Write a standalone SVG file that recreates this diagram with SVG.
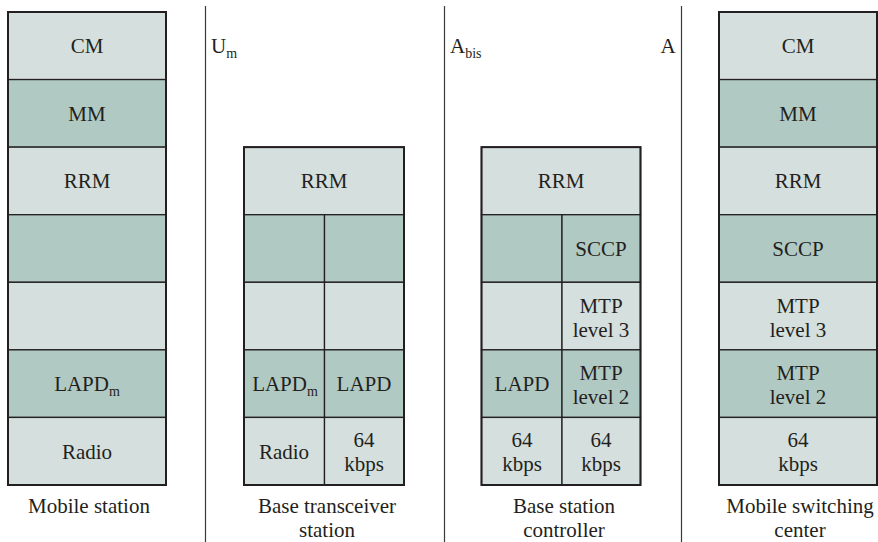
<svg xmlns="http://www.w3.org/2000/svg" width="878" height="542" viewBox="0 0 878 542" font-family="Liberation Serif, serif">
<style>
text{font-family:Liberation Serif,serif;font-size:21px;fill:#231f20;text-anchor:middle}
.l{fill:#d5dfdd;stroke:#231f20;stroke-width:1.3}
.d{fill:#b1c9c3;stroke:#231f20;stroke-width:1.3}
.o{fill:none;stroke:#231f20;stroke-width:2}
.sep{stroke:#3a3a3a;stroke-width:1.2;fill:none}
.s{font-size:14px}
.lt{text-anchor:start}
</style>
<rect width="878" height="542" fill="#ffffff"/>
<g id="interfaces">
<line class="sep" x1="205.5" y1="6" x2="205.5" y2="542"/>
<line class="sep" x1="444.5" y1="6" x2="444.5" y2="542"/>
<line class="sep" x1="681.5" y1="6" x2="681.5" y2="542"/>
<text class="lt" x="211" y="53">U<tspan class="s" dy="5">m</tspan></text>
<text class="lt" x="450" y="53">A<tspan class="s" dy="5">bis</tspan></text>
<text x="668" y="53">A</text>
</g>
<g id="mobile-station">
<rect class="l" x="8" y="12" width="158" height="67.57"/>
<rect class="d" x="8" y="79.57" width="158" height="67.57"/>
<rect class="l" x="8" y="147.14" width="158" height="67.57"/>
<rect class="d" x="8" y="214.71" width="158" height="67.57"/>
<rect class="l" x="8" y="282.28" width="158" height="67.57"/>
<rect class="d" x="8" y="349.85" width="158" height="67.57"/>
<rect class="l" x="8" y="417.42" width="158" height="67.58"/>
<rect class="o" x="8" y="12" width="158" height="473"/>
<text x="87" y="53">CM</text>
<text x="87" y="121">MM</text>
<text x="87" y="188">RRM</text>
<text x="87" y="391">LAPD<tspan class="s" dy="5">m</tspan></text>
<text x="87" y="459">Radio</text>
<text x="89" y="513">Mobile station</text>
</g>
<g id="base-transceiver-station">
<rect class="l" x="244" y="147.14" width="160" height="67.57"/>
<rect class="d" x="244" y="214.71" width="80.5" height="67.57"/>
<rect class="d" x="324.5" y="214.71" width="79.5" height="67.57"/>
<rect class="l" x="244" y="282.28" width="80.5" height="67.57"/>
<rect class="l" x="324.5" y="282.28" width="79.5" height="67.57"/>
<rect class="d" x="244" y="349.85" width="80.5" height="67.57"/>
<rect class="d" x="324.5" y="349.85" width="79.5" height="67.57"/>
<rect class="l" x="244" y="417.42" width="80.5" height="67.58"/>
<rect class="l" x="324.5" y="417.42" width="79.5" height="67.58"/>
<rect class="o" x="244" y="147.14" width="160" height="337.86"/>
<text x="324" y="188">RRM</text>
<text x="285" y="391">LAPD<tspan class="s" dy="5">m</tspan></text>
<text x="364" y="391">LAPD</text>
<text x="284" y="459">Radio</text>
<text x="364" y="447">64</text>
<text x="364" y="471">kbps</text>
<text x="327" y="513">Base transceiver</text>
<text x="327" y="537">station</text>
</g>
<g id="base-station-controller">
<rect class="l" x="481.5" y="147.14" width="159" height="67.57"/>
<rect class="d" x="481.5" y="214.71" width="80.5" height="67.57"/>
<rect class="d" x="562" y="214.71" width="78.5" height="67.57"/>
<rect class="l" x="481.5" y="282.28" width="80.5" height="67.57"/>
<rect class="l" x="562" y="282.28" width="78.5" height="67.57"/>
<rect class="d" x="481.5" y="349.85" width="80.5" height="67.57"/>
<rect class="d" x="562" y="349.85" width="78.5" height="67.57"/>
<rect class="l" x="481.5" y="417.42" width="80.5" height="67.58"/>
<rect class="l" x="562" y="417.42" width="78.5" height="67.58"/>
<rect class="o" x="481.5" y="147.14" width="159" height="337.86"/>
<text x="561" y="188">RRM</text>
<text x="601" y="256">SCCP</text>
<text x="601" y="313">MTP</text>
<text x="601" y="337">level 3</text>
<text x="522" y="391">LAPD</text>
<text x="601" y="380">MTP</text>
<text x="601" y="404">level 2</text>
<text x="522" y="447">64</text>
<text x="522" y="471">kbps</text>
<text x="601" y="447">64</text>
<text x="601" y="471">kbps</text>
<text x="564" y="513">Base station</text>
<text x="564" y="537">controller</text>
</g>
<g id="mobile-switching-center">
<rect class="l" x="719" y="12" width="158" height="67.57"/>
<rect class="d" x="719" y="79.57" width="158" height="67.57"/>
<rect class="l" x="719" y="147.14" width="158" height="67.57"/>
<rect class="d" x="719" y="214.71" width="158" height="67.57"/>
<rect class="l" x="719" y="282.28" width="158" height="67.57"/>
<rect class="d" x="719" y="349.85" width="158" height="67.57"/>
<rect class="l" x="719" y="417.42" width="158" height="67.58"/>
<rect class="o" x="719" y="12" width="158" height="473"/>
<text x="798" y="53">CM</text>
<text x="798" y="121">MM</text>
<text x="798" y="188">RRM</text>
<text x="798" y="256">SCCP</text>
<text x="798" y="313">MTP</text>
<text x="798" y="337">level 3</text>
<text x="798" y="380">MTP</text>
<text x="798" y="404">level 2</text>
<text x="798" y="447">64</text>
<text x="798" y="471">kbps</text>
<text x="800" y="513">Mobile switching</text>
<text x="800" y="537">center</text>
</g>
</svg>
